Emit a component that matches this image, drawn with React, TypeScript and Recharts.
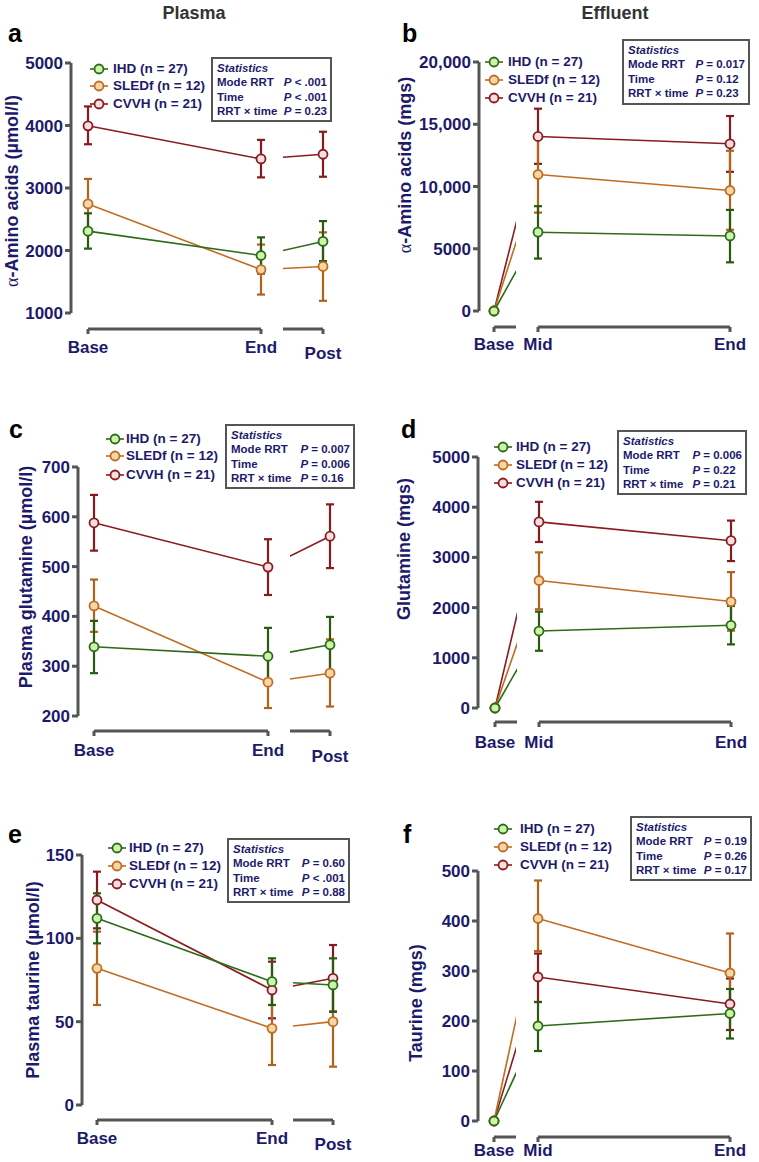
import React from 'react';
import { LineChart, Line, XAxis, YAxis, ErrorBar } from 'recharts';

const plasmaTimes = ['Base', 'End', 'Post'];
const effluentTimes = ['Base', 'Mid', 'End'];
const groups = ['IHD', 'SLEDf', 'CVVH'];
const groupN = [27, 12, 21];
const statLabels = ['Mode RRT', 'Time', 'RRT × time'];

// a: plasma alpha-amino acids (umol/l), error = [down, up]
const aIhd = [2310, 1920, 2145];
const aIhdErr = [[280, 285], [290, 290], [315, 325]];
const aSled = [2745, 1695, 1745];
const aSledErr = [[400, 400], [400, 400], [550, 545]];
const aCvvh = [3995, 3465, 3540];
const aCvvhErr = [[295, 310], [295, 305], [360, 360]];
const aTicks = [1000, 2000, 3000, 4000, 5000];
const aStats = ['P < .001', 'P < .001', 'P = 0.23'];

// b: effluent alpha-amino acids (mgs)
const bIhd = [0, 6330, 6030];
const bIhdErr = [null, [2120, 2090], [2120, 2090]];
const bSled = [0, 10965, 9680];
const bSledErr = [null, [3060, 3060], [3160, 3190]];
const bCvvh = [0, 14020, 13430];
const bCvvhErr = [null, [2200, 2230], [2250, 2230]];
const bTicks = [0, 5000, 10000, 15000, 20000];
const bStats = ['P = 0.017', 'P = 0.12', 'P = 0.23'];

// c: plasma glutamine (umol/l)
const cIhd = [339, 320, 343];
const cIhdErr = [[53, 52], [56, 57], [58, 56]];
const cSled = [421, 268, 286];
const cSledErr = [[52, 53], [52, 52], [67, 68]];
const cCvvh = [588, 499, 561];
const cCvvhErr = [[56, 56], [56, 56], [64, 64]];
const cTicks = [200, 300, 400, 500, 600, 700];
const cStats = ['P = 0.007', 'P = 0.006', 'P = 0.16'];

// d: effluent glutamine (mgs)
const dIhd = [0, 1533, 1647];
const dIhdErr = [null, [393, 387], [380, 386]];
const dSled = [0, 2540, 2120];
const dSledErr = [null, [573, 560], [580, 587]];
const dCvvh = [0, 3707, 3333];
const dCvvhErr = [null, [400, 400], [406, 400]];
const dTicks = [0, 1000, 2000, 3000, 4000, 5000];
const dStats = ['P = 0.006', 'P = 0.22', 'P = 0.21'];

// e: plasma taurine (umol/l)
const eIhd = [112, 74, 72];
const eIhdErr = [[15, 15], [14, 14], [16, 16]];
const eSled = [82, 46, 50];
const eSledErr = [[22, 22], [22, 22], [27, 27]];
const eCvvh = [123, 69, 76];
const eCvvhErr = [[17, 17], [17, 17], [20, 20]];
const eTicks = [0, 50, 100, 150];
const eStats = ['P = 0.60', 'P < .001', 'P = 0.88'];

// f: effluent taurine (mgs)
const fIhd = [0, 190, 215];
const fIhdErr = [null, [50, 48], [50, 49]];
const fSled = [0, 405, 296];
const fSledErr = [null, [65, 76], [79, 79]];
const fCvvh = [0, 288, 234];
const fCvvhErr = [null, [50, 47], [52, 51]];
const fTicks = [0, 100, 200, 300, 400, 500];
const fStats = ['P = 0.19', 'P = 0.26', 'P = 0.17'];

const FONT = '"Liberation Sans", Arial, Helvetica, sans-serif';
const NAVY = '#1d1a6b';
const GREY = '#555555';
const STYLE: Record<string, { line: string; err: string; fill: string }> = {
  IHD: { line: '#2f6a1b', err: '#285a12', fill: '#cbf5a8' },
  SLEDf: { line: '#c06d22', err: '#b3621a', fill: '#f6d6a6' },
  CVVH: { line: '#8a1b1f', err: '#861a1e', fill: '#f4e0e2' },
};
const MT = 12;
const XH = 42;
const YW = 70;

const panels = [
  {
    kind: 'plasma', letter: 'a', times: plasmaTimes, ticks: aTicks, stats: aStats,
    vals: [aIhd, aSled, aCvvh], errs: [aIhdErr, aSledErr, aCvvhErr],
    ylabel: ['α', '-Amino acids (µmol/l)'],
    L: { axisX: 71, yTop: 63, yBot: 313, bracketY: 329, xs: [88, 261, 323], breakX: 283, labelShift: 0,
      letter: [8, 21], ylab: [12, 191], legend: { mx: 99, tx: 113, ys: [69, 86, 104] },
      box: { x: 211, y: 57, w: 121, h: 65 } },
  },
  {
    kind: 'effluent', letter: 'b', times: effluentTimes, ticks: bTicks, stats: bStats,
    vals: [bIhd, bSled, bCvvh], errs: [bIhdErr, bSledErr, bCvvhErr],
    ylabel: ['α', '-Amino acids (mgs)'],
    L: { axisX: 479, yTop: 62, yBot: 311, bracketY: 327, xs: [494, 538, 730], breakX: 516, labelShift: -1,
      letter: [402, 21], ylab: [405, 165], legend: { mx: 494, tx: 508, ys: [62, 80, 98] },
      box: { x: 622, y: 39, w: 128, h: 66 } },
  },
  {
    kind: 'plasma', letter: 'c', times: plasmaTimes, ticks: cTicks, stats: cStats,
    vals: [cIhd, cSled, cCvvh], errs: [cIhdErr, cSledErr, cCvvhErr],
    ylabel: ['', 'Plasma glutamine (µmol/l)'],
    L: { axisX: 78, yTop: 467, yBot: 716, bracketY: 731, xs: [94, 268, 330], breakX: 290, labelShift: 1,
      letter: [9, 417], ylab: [26, 577], legend: { mx: 115, tx: 126, ys: [439, 456, 475] },
      box: { x: 225, y: 424, w: 130, h: 65 } },
  },
  {
    kind: 'effluent', letter: 'd', times: effluentTimes, ticks: dTicks, stats: dStats,
    vals: [dIhd, dSled, dCvvh], errs: [dIhdErr, dSledErr, dCvvhErr],
    ylabel: ['', 'Glutamine (mgs)'],
    L: { axisX: 478, yTop: 457, yBot: 708, bracketY: 722, xs: [495, 539, 731], breakX: 517, labelShift: 2,
      letter: [401, 417], ylab: [404, 549], legend: { mx: 503, tx: 516, ys: [447, 465, 483] },
      box: { x: 617, y: 430, w: 130, h: 65 } },
  },
  {
    kind: 'plasma', letter: 'e', times: plasmaTimes, ticks: eTicks, stats: eStats,
    vals: [eIhd, eSled, eCvvh], errs: [eIhdErr, eSledErr, eCvvhErr],
    ylabel: ['', 'Plasma taurine (µmol/l)'],
    L: { axisX: 82, yTop: 855, yBot: 1105, bracketY: 1120, xs: [97, 272, 333], breakX: 293, labelShift: 0,
      letter: [8, 822], ylab: [33, 980], legend: { mx: 117, tx: 129, ys: [848, 866, 884] },
      box: { x: 227, y: 838, w: 123, h: 65 } },
  },
  {
    kind: 'effluent', letter: 'f', times: effluentTimes, ticks: fTicks, stats: fStats,
    vals: [fIhd, fSled, fCvvh], errs: [fIhdErr, fSledErr, fCvvhErr],
    ylabel: ['', 'Taurine (mgs)'],
    L: { axisX: 478, yTop: 871, yBot: 1121, bracketY: 1137, xs: [494, 538, 730], breakX: 516, labelShift: -5,
      letter: [403, 822], ylab: [416, 1003], legend: { mx: 503, tx: 520, ys: [829, 847, 865] },
      box: { x: 630, y: 816, w: 122, h: 65 } },
  },
];

function buildRows(times: string[], idx: number[], vals: number[][], errs: any[][]) {
  return idx.map((i) => {
    const row: any = { t: times[i] };
    groups.forEach((g, k) => {
      row[g] = vals[k][i];
      row[g + '_e'] = errs[k][i];
    });
    return row;
  });
}

function XTick(props: any) {
  const { x, y, payload, skip, shift } = props;
  // the label shared with the other segment is drawn only once
  if (payload.value === skip) return <g />;
  const lower = payload.value === 'Post';
  return (
    <text x={x} y={y} dy={(lower ? 23 : 17) + shift} textAnchor="middle" fill={NAVY}
      fontSize={17} fontWeight="bold" fontFamily={FONT}>
      {payload.value}
    </text>
  );
}

const fmtTick = (v: number) => (v >= 10000 ? v.toLocaleString('en-US') : String(v));

function SegChart(p: any) {
  const yw = p.showY ? YW : 0;
  const mL = p.mL || 0;
  const mR = 22;
  const left = p.plotL - yw - mL;
  const width = p.plotR - p.plotL + yw + mL + mR;
  const top = p.yTop - MT;
  const height = MT + p.plotH + XH;
  const chart = (
    <LineChart width={width} height={height} data={p.data}
      margin={{ top: MT, right: mR, bottom: 0, left: mL }}>
      <XAxis dataKey="t" type="category" scale="point" interval={0}
        padding={{ left: p.padL, right: 0 }} height={XH}
        axisLine={{ stroke: GREY, strokeWidth: 3, strokeDasharray: `0 ${p.padL} 4000` }}
        tickLine={{ stroke: GREY, strokeWidth: 3 }} tickSize={5}
        tick={(tp: any) => <XTick {...tp} skip={p.skipLabel} shift={p.labelShift} />} />
      <YAxis hide={!p.showY} width={YW} type="number" domain={p.domain} ticks={p.ticks}
        interval={0} tickFormatter={fmtTick}
        axisLine={{ stroke: GREY, strokeWidth: 3, strokeDasharray: `${p.yLen} 4000` }}
        tickLine={{ stroke: GREY, strokeWidth: 3 }} tickSize={6}
        tick={{ fill: NAVY, fontSize: 17, fontWeight: 'bold', fontFamily: FONT }} />
      {['CVVH', 'SLEDf', 'IHD'].map((g) => (
        <Line key={g} dataKey={g} type="linear" stroke={STYLE[g].line} strokeWidth={1.6}
          dot={{ r: 4.5, fill: STYLE[g].fill, stroke: STYLE[g].line, strokeWidth: 1.8 }}
          activeDot={false} isAnimationActive={false}>
          {p.errors && (
            <ErrorBar dataKey={g + '_e'} direction="y" width={4} stroke={STYLE[g].err}
              strokeWidth={2.2} isAnimationActive={false} />
          )}
        </Line>
      ))}
    </LineChart>
  );
  if (p.clip) {
    return (
      <div style={{ position: 'absolute', left: p.clip[0], top, width: p.clip[1] - p.clip[0], height, overflow: 'hidden' }}>
        <div style={{ position: 'absolute', left: left - p.clip[0], top: 0 }}>{chart}</div>
      </div>
    );
  }
  return <div style={{ position: 'absolute', left, top }}>{chart}</div>;
}

function LegendHtml({ mx, tx, ys }: any) {
  return (
    <>
      {groups.map((g, k) => (
        <React.Fragment key={g}>
          <svg style={{ position: 'absolute', left: mx - 9, top: ys[k] - 6 }} width={18} height={12}>
            <line x1={0} y1={6} x2={18} y2={6} stroke={STYLE[g].line} strokeWidth={1.6} />
            <circle cx={9} cy={6} r={4.5} fill={STYLE[g].fill} stroke={STYLE[g].line} strokeWidth={1.8} />
          </svg>
          <div style={{ position: 'absolute', left: tx, top: ys[k] - 9, lineHeight: '18px', fontSize: 13.5,
            fontWeight: 'bold', color: NAVY, whiteSpace: 'nowrap' }}>
            {`${g} (n = ${groupN[k]})`}
          </div>
        </React.Fragment>
      ))}
    </>
  );
}

function StatsBox({ box, vals }: any) {
  return (
    <div style={{ position: 'absolute', left: box.x, top: box.y, width: box.w, height: box.h, boxSizing: 'border-box',
      border: `2px solid ${GREY}`, padding: '2px 3px 0 4px', color: NAVY, fontSize: 11.5, fontWeight: 'bold',
      lineHeight: '14.4px', whiteSpace: 'nowrap', background: '#fff' }}>
      <div style={{ fontStyle: 'italic' }}>Statistics</div>
      <div style={{ display: 'grid', gridTemplateColumns: '1fr auto', columnGap: 4 }}>
        {statLabels.map((l, i) => (
          <React.Fragment key={l}>
            <span>{l}</span>
            <span><i>P</i>{vals[i].slice(1)}</span>
          </React.Fragment>
        ))}
      </div>
    </div>
  );
}

function Panel({ spec }: any) {
  const { kind, times, vals, errs, ticks, L } = spec;
  const lo = ticks[0];
  const hi = ticks[ticks.length - 1];
  const dMin = lo - ((L.bracketY - L.yBot) / (L.yBot - L.yTop)) * (hi - lo);
  const common = {
    yTop: L.yTop, plotH: L.bracketY - L.yTop, domain: [dMin, hi], ticks, yLen: L.yBot - L.yTop,
    labelShift: L.labelShift,
  };
  const [x0, x1, x2] = L.xs;
  return (
    <>
      {kind === 'plasma' ? (
        <>
          <SegChart {...common} data={buildRows(times, [0, 1], vals, errs)} plotL={L.axisX} plotR={x1}
            padL={x0 - L.axisX} showY errors />
          <SegChart {...common} data={buildRows(times, [1, 2], vals, errs)} plotL={x1} plotR={x2}
            padL={0} showY={false} errors clip={[L.breakX, x2 + 30]} skipLabel={times[1]} />
        </>
      ) : (
        <>
          <SegChart {...common} data={buildRows(times, [1, 2], vals, errs)} plotL={L.axisX} plotR={x2}
            padL={x1 - L.axisX} showY errors />
          <SegChart {...common} data={buildRows(times, [0, 1], vals, errs)} plotL={x0} plotR={x1}
            padL={0} showY={false} errors={false} mL={30} clip={[x0 - 30, L.breakX]} skipLabel={times[1]} />
        </>
      )}
      <div style={{ position: 'absolute', left: L.letter[0], top: L.letter[1], fontSize: 25, lineHeight: '25px',
        fontWeight: 'bold', color: '#000' }}>{spec.letter}</div>
      <div style={{ position: 'absolute', left: L.ylab[0], top: L.ylab[1], transform: 'translate(-50%,-50%) rotate(-90deg)',
        whiteSpace: 'nowrap', fontSize: 18, lineHeight: '18px', fontWeight: 'bold', color: NAVY }}>
        {spec.ylabel[0] && (
          <span style={{ fontFamily: '"Liberation Serif", serif', fontWeight: 'normal' }}>{spec.ylabel[0]}</span>
        )}
        {spec.ylabel[1]}
      </div>
      <LegendHtml {...L.legend} />
      <StatsBox box={L.box} vals={spec.stats} />
    </>
  );
}

export default function App() {
  return (
    <div style={{ position: 'absolute', left: 0, top: 0, width: 759, height: 1162, background: '#fff',
      overflow: 'hidden', fontFamily: FONT }}>
      <div style={{ position: 'absolute', left: 194, top: 4, transform: 'translateX(-50%)', fontSize: 18,
        lineHeight: '18px', fontWeight: 'bold', color: '#333' }}>Plasma</div>
      <div style={{ position: 'absolute', left: 615, top: 4, transform: 'translateX(-50%)', fontSize: 18,
        lineHeight: '18px', fontWeight: 'bold', color: '#333' }}>Effluent</div>
      {panels.map((s) => (
        <Panel key={s.letter} spec={s} />
      ))}
    </div>
  );
}
